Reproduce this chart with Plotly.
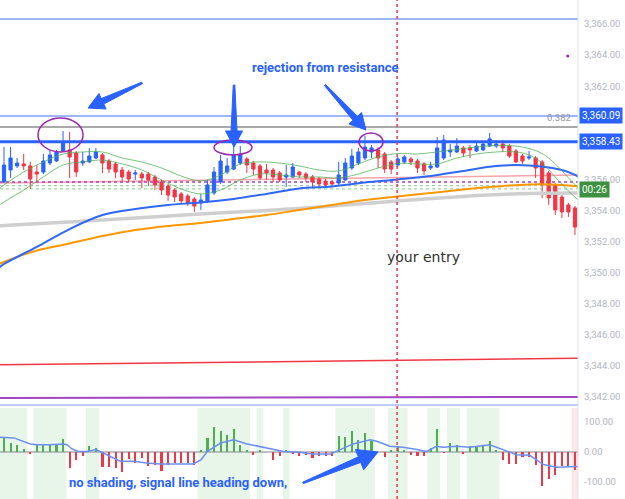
import math
import plotly.graph_objects as go

# ---------------- data ----------------
opens = [3355.84, 3356.61, 3356.87, 3357.00, 3356.87, 3356.48, 3356.48, 3357.06, 3357.19, 3357.83,
         3357.90, 3357.70, 3357.06, 3357.13, 3357.38, 3357.58, 3357.19, 3357.00, 3356.61, 3356.48,
         3356.35, 3356.35, 3356.35, 3356.16, 3355.84, 3355.58, 3355.32, 3355.07, 3354.94, 3354.74,
         3354.49, 3354.62, 3355.13, 3355.84, 3356.48, 3356.67, 3357.06, 3357.32, 3357.06, 3356.87,
         3356.61, 3356.61, 3356.42, 3356.16, 3356.16, 3356.48, 3356.35, 3356.16, 3356.03, 3355.90,
         3355.84, 3355.77, 3355.97, 3356.74, 3357.06, 3357.38, 3357.77, 3357.90, 3357.64, 3357.13,
         3356.93, 3357.13, 3357.32, 3357.19, 3357.00, 3356.74, 3356.80, 3357.38, 3357.77, 3357.77,
         3358.03, 3358.03, 3357.83, 3357.90, 3358.15, 3358.15, 3358.28, 3358.15, 3357.83, 3357.51,
         3357.38, 3357.38, 3357.13, 3356.42, 3355.65, 3354.87, 3354.36, 3354.17]
highs = [3358.09, 3358.09, 3357.38, 3357.64, 3357.13, 3356.93, 3357.64, 3357.90, 3357.90, 3359.12,
         3359.06, 3357.83, 3357.77, 3358.03, 3358.03, 3357.70, 3357.32, 3357.13, 3356.80, 3356.61,
         3356.61, 3356.48, 3356.48, 3356.29, 3355.97, 3355.71, 3355.45, 3355.20, 3355.07, 3354.87,
         3355.07, 3355.97, 3356.80, 3357.58, 3357.38, 3358.54, 3358.15, 3357.45, 3357.19, 3357.00,
         3357.00, 3356.74, 3356.55, 3356.93, 3357.06, 3356.55, 3356.48, 3356.29, 3356.16, 3356.03,
         3355.97, 3357.13, 3357.38, 3357.96, 3358.03, 3358.80, 3358.22, 3358.09, 3357.77, 3357.25,
         3357.45, 3357.58, 3357.45, 3357.32, 3357.13, 3357.13, 3358.73, 3358.86, 3358.28, 3358.67,
         3358.15, 3358.22, 3358.35, 3358.41, 3358.99, 3358.54, 3358.54, 3358.28, 3357.96, 3357.64,
         3357.83, 3357.51, 3357.25, 3356.55, 3355.77, 3355.00, 3354.49, 3354.29]
lows = [3355.77, 3356.10, 3356.74, 3356.61, 3355.39, 3355.84, 3356.35, 3356.93, 3357.13, 3357.77,
        3356.10, 3356.16, 3356.87, 3357.06, 3357.32, 3356.42, 3356.42, 3356.10, 3355.84, 3355.84,
        3355.97, 3355.45, 3355.58, 3355.32, 3355.00, 3354.62, 3354.55, 3354.42, 3354.29, 3353.91,
        3354.04, 3354.49, 3355.00, 3355.71, 3356.35, 3356.61, 3356.93, 3356.42, 3356.29, 3355.97,
        3355.97, 3355.84, 3355.84, 3355.52, 3356.10, 3356.10, 3355.84, 3355.52, 3355.52, 3355.45,
        3355.52, 3355.65, 3355.90, 3356.61, 3356.93, 3357.25, 3357.38, 3356.74, 3356.42, 3356.35,
        3356.80, 3357.00, 3356.93, 3356.42, 3356.29, 3356.61, 3356.74, 3357.25, 3357.45, 3357.70,
        3357.45, 3357.38, 3357.77, 3357.83, 3358.09, 3358.03, 3357.77, 3357.38, 3357.06, 3357.00,
        3357.25, 3356.10, 3354.81, 3354.36, 3353.71, 3353.52, 3353.59, 3352.43]
closes = [3356.93, 3357.38, 3357.06, 3356.87, 3356.03, 3356.35, 3357.19, 3357.58, 3357.77, 3358.35,
          3357.45, 3356.48, 3357.19, 3357.51, 3357.77, 3357.06, 3356.67, 3356.48, 3356.16, 3356.03,
          3356.42, 3356.10, 3355.97, 3355.65, 3355.32, 3355.00, 3354.87, 3354.62, 3354.49, 3354.29,
          3354.68, 3355.65, 3356.48, 3357.19, 3356.87, 3357.58, 3357.64, 3356.93, 3356.67, 3356.10,
          3356.42, 3356.16, 3355.97, 3356.29, 3356.80, 3356.29, 3356.10, 3355.84, 3355.71, 3355.65,
          3355.71, 3356.29, 3357.06, 3357.51, 3357.77, 3358.09, 3358.03, 3357.38, 3356.67, 3356.67,
          3357.32, 3357.45, 3357.13, 3356.74, 3356.55, 3356.87, 3358.03, 3358.54, 3357.90, 3358.15,
          3357.70, 3357.90, 3358.15, 3358.28, 3358.61, 3358.28, 3358.03, 3357.51, 3357.13, 3357.19,
          3357.45, 3356.74, 3355.65, 3354.81, 3354.04, 3353.91, 3353.91, 3352.94]
bar_index = list(range(len(closes)))

# moving averages (sampled at bar indices)
ma_idx = [-1, 0, 5, 10, 15, 20, 25, 30, 35, 40, 45, 50, 55, 60, 65, 70, 75, 80, 85, 87, 87.5]
ma_blue = [3350.24, 3350.56, 3351.66, 3352.81, 3353.71, 3354.10, 3354.36, 3354.52, 3354.75, 3355.07,
           3355.42, 3355.55, 3355.81, 3356.00, 3356.22, 3356.55, 3356.87, 3356.90, 3356.61, 3356.29, 3356.16]
ma_orange = [3350.50, 3350.69, 3351.43, 3351.88, 3352.36, 3352.75, 3353.01, 3353.20, 3353.46, 3353.71,
             3354.04, 3354.36, 3354.68, 3354.91, 3355.13, 3355.36, 3355.55, 3355.68, 3355.65, 3355.58, 3355.55]
gray_idx = [-1, 0, 10, 20, 30, 40, 50, 60, 70, 80, 87.5]
ma_gray = [3353.01, 3353.04, 3353.26, 3353.52, 3353.78, 3354.00, 3354.29, 3354.62, 3354.91, 3355.10, 3355.13]

env_idx = [-1, 0, 3, 6, 9, 12, 15, 18, 21, 24, 27, 30, 33, 36, 39, 42, 45, 48, 51, 54, 57, 60, 63, 66,
           69, 72, 75, 78, 80, 82, 84, 86, 87.5]
env_upper = [3355.32, 3355.65, 3356.48, 3357.13, 3357.64, 3357.77, 3357.77, 3357.38, 3357.13, 3356.74,
             3356.22, 3355.90, 3356.29, 3357.00, 3357.13, 3357.06, 3356.87, 3356.61, 3356.55, 3357.00,
             3357.45, 3357.67, 3357.64, 3357.77, 3357.93, 3358.09, 3358.19, 3358.15, 3357.99, 3357.67,
             3357.00, 3356.10, 3355.45]
env_lower = [3354.29, 3354.55, 3355.32, 3356.16, 3356.93, 3357.13, 3357.25, 3357.00, 3356.61, 3355.97,
             3355.39, 3355.07, 3355.32, 3355.97, 3356.35, 3356.29, 3356.16, 3356.16, 3356.10, 3356.35,
             3356.74, 3357.03, 3357.00, 3357.00, 3357.38, 3357.64, 3357.77, 3357.77, 3357.58, 3357.06,
             3356.16, 3355.26, 3354.68]

# oscillator
osc_hist = [47, 30, 24, 11, -7, 22, 22, 27, 27, 43, -53, -28, -14, 20, 13, -49, -51, -53, -67, -22,
            -37, -20, -48, -42, -64, -44, -37, -37, -37, -44, 4, 47, 83, 71, 56, 77, 22, 8, -9, 4,
            0, -28, -14, 8, -6, -12, -11, -19, -12, -12, -14, 52, 49, 71, 41, 63, 38, 0, -18, 8,
            19, 8, -9, -14, -12, 13, 77, -3, 30, 24, -6, 19, 19, 22, 36, 8, -28, -39, -39, -18,
            -18, -44, -114, -89, -76, -48, -48, -59]
sig_idx = [-1, 1.5, 4, 5, 7, 9, 9.6, 10.3, 11.3, 12.6, 14, 15, 16, 17.7, 19.7, 21.7, 23.8, 28.8, 30, 31,
           33, 35, 37, 39.5, 41, 42.6, 45, 47, 49.7, 51.2, 53.2, 55.8, 56.8, 58.8, 60.8, 62.9, 64.4,
           65.9, 66.9, 69, 71, 74, 76.1, 78.1, 80.1, 82.2, 84.2, 87.5]
sig_val = [50, 47, 27, 24, 24, 27, 24, 11, 2, 2, 8, -3, -14, -31, -31, -37, -40, -40, -26, 2,
           30, 41, 27, 16, 8, 2, -1, -7, -7, 8, 27, 41, 36, 19, 16, 8, 2,
           19, 16, 19, 16, 24, 8, -9, -11, -42, -51, -48]
shade_start = [-0.7, 4.5, 12.5, 29.5, 38.5, 42.5, 50.5, 58.5, 64.5, 67.5, 70.5]
shade_end = [3.5, 9.5, 14.5, 37.5, 39.5, 43.5, 56.5, 61.5, 66.5, 69.5, 75.5]

# horizontal levels
level_top = 3366.33
level_fib = 3360.09
level_gray = 3359.38
level_res = 3358.43
pink_line = (3355.77, 3356.29)
red_line = (3344.07, 3344.50)
purple_line = (3341.94, 3342.00)
purple_dotted = 3355.84
green_dotted = [3355.60, 3355.39]
entry_index = 59.9

price_ticks = [3342, 3344, 3346, 3348, 3350, 3352, 3354, 3356, 3362, 3364, 3366]
osc_ticks = [100, 0, -100]
osc_tick_text = ["100.00", "0.00", "-100.00"]

# ---------------- geometry ----------------
W, H = 625, 499
PW = 578
X0, X1 = -0.61, 87.46
P_BOT, P_TOP = 3341.55, 3367.55
MAIN_H = 404
OSC_TOP_PX = 408
O_BOT, O_TOP = -156.7, 146.7

BLUE = "#2962ff"
RED = "#f23645"
PURPLE = "#9c27b0"


def px(x):
    return (x - X0) / (X1 - X0) * PW


def py(p):
    return (P_TOP - p) / (P_TOP - P_BOT) * MAIN_H


def py_osc(v):
    return OSC_TOP_PX + (O_TOP - v) / (O_TOP - O_BOT) * (H - OSC_TOP_PX)


def paper(xp, yp):
    return xp / PW, 1 - yp / H


def arrow_path(xa, ya, xb, yb, head_len=16, head_hw=8.5, neck_hw=3.0, tail_hw=0.8):
    dx, dy = xb - xa, yb - ya
    L = math.hypot(dx, dy)
    ux, uy = dx / L, dy / L
    nx, ny = -uy, ux
    kx, ky = xb - ux * head_len, yb - uy * head_len
    pts = [(xa + nx * tail_hw, ya + ny * tail_hw), (kx + nx * neck_hw, ky + ny * neck_hw),
           (kx + nx * head_hw, ky + ny * head_hw), (xb, yb),
           (kx - nx * head_hw, ky - ny * head_hw), (kx - nx * neck_hw, ky - ny * neck_hw),
           (xa - nx * tail_hw, ya - ny * tail_hw)]
    s = ""
    for i, (a, b) in enumerate(pts):
        u, v = paper(a, b)
        s += ("M" if i == 0 else "L") + f"{u:.5f},{v:.5f} "
    return s + "Z"


fig = go.Figure()

# ---------------- main pane traces ----------------
fig.add_trace(go.Scatter(x=gray_idx, y=ma_gray, mode="lines", line=dict(color="#cfcfcf", width=3.5, shape="spline"),
                         hoverinfo="skip"))
fig.add_trace(go.Scatter(x=ma_idx, y=ma_orange, mode="lines", line=dict(color="#ff9800", width=2, shape="spline"),
                         hoverinfo="skip"))
fig.add_trace(go.Scatter(x=ma_idx, y=ma_blue, mode="lines", line=dict(color="#2f68f5", width=2, shape="spline"),
                         hoverinfo="skip"))
fig.add_trace(go.Scatter(x=env_idx, y=env_upper, mode="lines",
                         line=dict(color="rgba(76,175,80,0.75)", width=1, shape="spline"), hoverinfo="skip"))
fig.add_trace(go.Scatter(x=env_idx, y=env_lower, mode="lines",
                         line=dict(color="rgba(76,175,80,0.75)", width=1, shape="spline"), hoverinfo="skip"))

fig.add_trace(go.Candlestick(
    x=bar_index, open=opens, high=highs, low=lows, close=closes,
    increasing=dict(line=dict(color=BLUE, width=1), fillcolor=BLUE),
    decreasing=dict(line=dict(color=RED, width=1), fillcolor=RED),
    whiskerwidth=0, xaxis="x", yaxis="y"))

fig.add_trace(go.Scatter(x=[85.9], y=[3363.95], mode="markers", marker=dict(color=PURPLE, size=3),
                         hoverinfo="skip"))

# ---------------- oscillator pane ----------------
fig.add_trace(go.Bar(x=bar_index, y=osc_hist, width=0.32, yaxis="y2",
                     marker=dict(color=["#4caf50" if v >= 0 else RED for v in osc_hist], line=dict(width=0)),
                     hoverinfo="skip"))
fig.add_trace(go.Scatter(x=sig_idx, y=sig_val, mode="lines", yaxis="y2",
                         line=dict(color="#6b8ff0", width=1.5), hoverinfo="skip"))

shapes = []
for s0, s1 in zip(shade_start, shade_end):
    shapes.append(dict(type="rect", xref="x", yref="y2 domain", x0=s0, x1=s1, y0=0, y1=1,
                       fillcolor="#e8f5e9", line=dict(width=0), layer="below"))
shapes.append(dict(type="rect", xref="x", yref="y2 domain", x0=86.5, x1=87.46, y0=0, y1=1,
                   fillcolor="#fde7ea", line=dict(width=0), layer="below"))
shapes.append(dict(type="line", xref="x", yref="y2", x0=X0, x1=X1, y0=0, y1=0,
                   line=dict(color="#a7aab2", width=1.5), layer="below"))

# horizontal levels in main pane
def hline(y0, y1=None, color=BLUE, width=1, dash="solid", layer="below"):
    shapes.append(dict(type="line", xref="x", yref="y", x0=X0, x1=X1, y0=y0,
                       y1=y0 if y1 is None else y1, line=dict(color=color, width=width, dash=dash),
                       layer=layer))

hline(level_top, color="#7d9cf7", width=1.5)
hline(level_fib, color="#7d9cf7", width=1.5)
hline(level_gray, color="#a9a9a9", width=2)
hline(level_res, color=BLUE, width=3, layer="above")
hline(pink_line[0], pink_line[1], color="#f5a3ab", width=1.5)
for g in green_dotted:
    hline(g, color="#9fd4a2", width=1.2, dash="dot")
hline(purple_dotted, color="#a442c0", width=1.5, dash="dot")
hline(red_line[0], red_line[1], color=RED, width=1.5)
hline(purple_line[0], purple_line[1], color="#a446c4", width=2)

# separator line between panes
sx0, sy0 = paper(0, 405)
shapes.append(dict(type="line", xref="paper", yref="paper", x0=0, x1=1, y0=sy0, y1=sy0,
                   line=dict(color="#7d9cf7", width=1.2)))
# right axis border
shapes.append(dict(type="line", xref="paper", yref="paper", x0=1, x1=1, y0=0, y1=1,
                   line=dict(color="#dfe1e6", width=1)))
# entry vertical line
shapes.append(dict(type="line", xref="x", yref="paper", x0=entry_index, x1=entry_index, y0=0, y1=1,
                   line=dict(color=RED, width=1.5, dash="dot")))

# ellipses (drawings)
ellipses = [(5.18, 12.04, 3357.77, 3359.96), (32.0, 37.79, 3357.58, 3358.54), (54.09, 57.75, 3357.83, 3358.99)]
for ex0, ex1, ey0, ey1 in ellipses:
    shapes.append(dict(type="circle", xref="x", yref="y", x0=ex0, x1=ex1, y0=ey0, y1=ey1,
                       line=dict(color=PURPLE, width=1.5)))

# arrows (drawings) given as (tail, tip) in chart coordinates
main_arrows = [((21.03, 3362.21), (12.80, 3360.60)),
               ((35.05, 3362.08), (35.05, 3358.09)),
               ((48.91, 3362.08), (55.16, 3359.18))]
for (ta, tb), (ha, hb) in main_arrows:
    shapes.append(dict(type="path", xref="paper", yref="paper",
                       path=arrow_path(px(ta), py(tb), px(ha), py(hb)),
                       fillcolor=BLUE, line=dict(color=BLUE, width=1)))
osc_arrow = ((45.56, -103), (56.99, 0))
shapes.append(dict(type="path", xref="paper", yref="paper",
                   path=arrow_path(px(osc_arrow[0][0]), py_osc(osc_arrow[0][1]),
                                   px(osc_arrow[1][0]), py_osc(osc_arrow[1][1]), head_len=20, head_hw=11),
                   fillcolor=BLUE, line=dict(color=BLUE, width=1)))

# ---------------- annotations ----------------
ann = []
def text_at(xp, yp, text, size, color, weight="normal", xanchor="center", family="Roboto"):
    u, v = paper(xp, yp)
    ann.append(dict(xref="paper", yref="paper", x=u, y=v, text=text, showarrow=False, xanchor=xanchor,
                    yanchor="middle", font=dict(family=family, size=size, color=color, weight=weight)))

text_at(325, 67, "rejection from resistance", 13, BLUE, "bold")
text_at(423, 257, "your entry", 14, "#303030", family="DejaVu Sans")
text_at(178, 482, "no shading, signal line heading down,", 13, BLUE, "bold")
text_at(573, 117, "0.382", 9.5, "#9598a1", xanchor="right")

def price_box(yval, text, bg, yref="y"):
    ann.append(dict(xref="paper", yref=yref, x=1.0, y=yval, text=text, showarrow=False, xanchor="left",
                    yanchor="middle", bgcolor=bg, borderpad=2, xshift=1,
                    font=dict(family="Roboto", size=10, color="white")))

price_box(level_fib, "3,360.09", BLUE)
price_box(level_res, "3,358.43", BLUE)
price_box(3355.33, "00:26", "#3c9140")

fig.update_layout(
    width=W, height=H, margin=dict(l=0, r=W - PW, t=0, b=0),
    paper_bgcolor="white", plot_bgcolor="white", showlegend=False,
    shapes=shapes, annotations=ann,
    xaxis=dict(range=[X0, X1], visible=False, rangeslider=dict(visible=False), anchor="y2"),
    yaxis=dict(domain=[1 - MAIN_H / H, 1], range=[P_BOT, P_TOP], side="right", showgrid=False,
               zeroline=False, tickvals=price_ticks, ticktext=[f"{t:,.2f}" for t in price_ticks],
               tickfont=dict(family="Roboto", size=9.5, color="#b2b5be"), ticks="", ticklabelstandoff=5),
    yaxis2=dict(domain=[0, 1 - OSC_TOP_PX / H], range=[O_BOT, O_TOP], side="right", showgrid=False,
                zeroline=False, tickvals=osc_ticks, ticktext=osc_tick_text,
                tickfont=dict(family="Roboto", size=9.5, color="#b2b5be"), ticks="", ticklabelstandoff=5),
    bargap=0,
)

fig.write_html("out.html")
